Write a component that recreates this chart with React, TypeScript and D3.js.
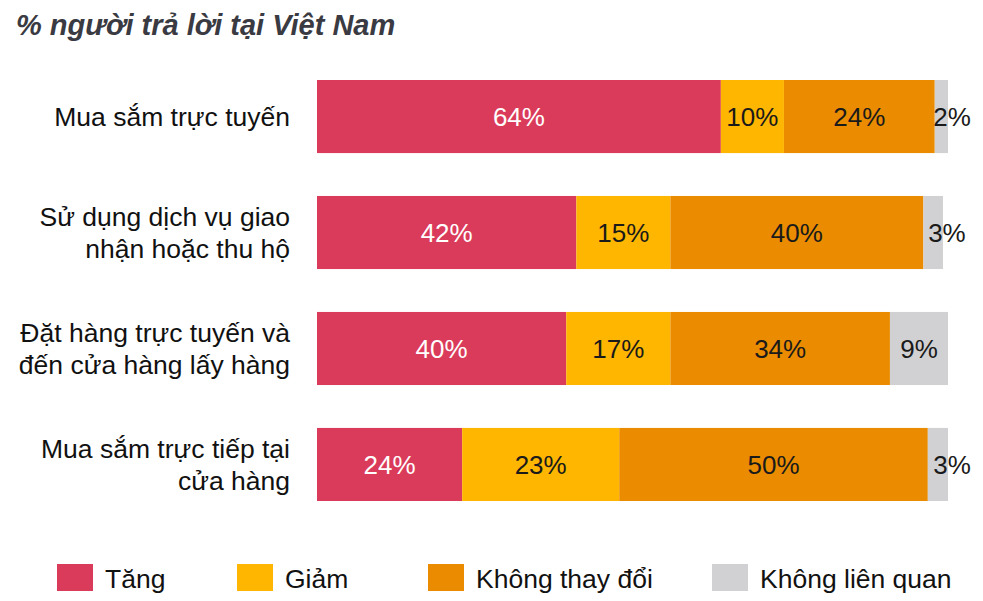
import { useEffect, useRef } from "react"
import * as d3 from "d3"

// data
const categories = [
	["Mua sắm trực tuyến"],
	["Sử dụng dịch vụ giao", "nhận hoặc thu hộ"],
	["Đặt hàng trực tuyến và", "đến cửa hàng lấy hàng"],
	["Mua sắm trực tiếp tại", "cửa hàng"],
]
const seriesNames = ["Tăng", "Giảm", "Không thay đổi", "Không liên quan"]
// segment widths (%)
const tang = [64, 41.1, 39.5, 23]
const giam = [10, 14.9, 16.5, 24.9]
const khongDoi = [23.9, 40.1, 34.8, 48.9]
const khongLienQuan = [2.1, 3.1, 9.2, 3.2]
// printed labels
const tangLabels = ["64%", "42%", "40%", "24%"]
const giamLabels = ["10%", "15%", "17%", "23%"]
const khongDoiLabels = ["24%", "40%", "34%", "50%"]
const khongLienQuanLabels = ["2%", "3%", "9%", "3%"]

const colors = ["#DB3B5A", "#FFB600", "#EB8C00", "#D1D1D3"]

const App = () => {
	const svgRef = useRef(null)

	useEffect(() => {
		const width = 983
		const height = 601
		const svg = d3.select(svgRef.current)
		svg.selectAll("*").remove()
		svg.attr("width", width).attr("height", height)

		const font = "'Liberation Sans', Arial, sans-serif"

		// title
		svg.append("text")
			.attr("x", 16)
			.attr("y", 35)
			.attr("font-family", font)
			.attr("font-size", 29)
			.attr("font-weight", "bold")
			.attr("font-style", "italic")
			.attr("fill", "#3a3a42")
			.text("% người trả lời tại Việt Nam")

		const x = d3.scaleLinear().domain([0, 100]).range([317, 948])
		const y = d3.scaleBand<number>()
			.domain(d3.range(categories.length))
			.range([80, 501])
			.paddingInner(0.37)
			.paddingOuter(0)

		const series = [tang, giam, khongDoi, khongLienQuan]
		const labels = [tangLabels, giamLabels, khongDoiLabels, khongLienQuanLabels]

		const rows = categories.map((_, i) => {
			let acc = 0
			return series.map((s, k) => {
				const x0 = acc
				acc += s[i]
				return { row: i, k, x0, x1: acc, label: labels[k][i] }
			})
		})

		const g = svg.append("g")

		rows.forEach((segs) => {
			g.selectAll(null)
				.data(segs)
				.enter()
				.append("rect")
				.attr("x", (d) => x(d.x0))
				.attr("y", (d) => y(d.row)!)
				.attr("width", (d) => x(d.x1) - x(d.x0))
				.attr("height", y.bandwidth())
				.attr("fill", (d) => colors[d.k])

			g.selectAll(null)
				.data(segs)
				.enter()
				.append("text")
				.attr("x", (d) => {
					const w = x(d.x1) - x(d.x0)
					// small segments: label hangs past the bar end
					return w < 30 ? x(d.x1) + 4 : (x(d.x0) + x(d.x1)) / 2
				})
				.attr("y", (d) => y(d.row)! + y.bandwidth() / 2)
				.attr("dy", "0.35em")
				.attr("text-anchor", "middle")
				.attr("font-family", font)
				.attr("font-size", 26)
				.attr("fill", (d) => (d.k === 0 ? "#ffffff" : "#1a1a1a"))
				.text((d) => d.label)
		})

		// category labels
		categories.forEach((lines, i) => {
			const cy = y(i)! + y.bandwidth() / 2
			const lh = 32
			const t = g.append("text")
				.attr("text-anchor", "end")
				.attr("font-family", font)
				.attr("font-size", 26.5)
				.attr("fill", "#111")
			lines.forEach((line, j) => {
				t.append("tspan")
					.attr("x", 290)
					.attr("y", cy + (j - (lines.length - 1) / 2) * lh)
					.attr("dy", "0.35em")
					.text(line)
			})
		})

		// legend
		const legendX = [57, 237, 428, 712]
		const legend = svg.append("g").attr("transform", "translate(0,564)")
		seriesNames.forEach((name, k) => {
			legend.append("rect")
				.attr("x", legendX[k])
				.attr("y", 0)
				.attr("width", 36)
				.attr("height", 27)
				.attr("fill", colors[k])
			legend.append("text")
				.attr("x", legendX[k] + 48)
				.attr("y", 24)
				.attr("font-family", font)
				.attr("font-size", 26.5)
				.attr("fill", "#111")
				.text(name)
		})
	}, [])

	return <svg ref={svgRef} style={{ position: "absolute", left: 0, top: 0 }}></svg>
}

export default App
